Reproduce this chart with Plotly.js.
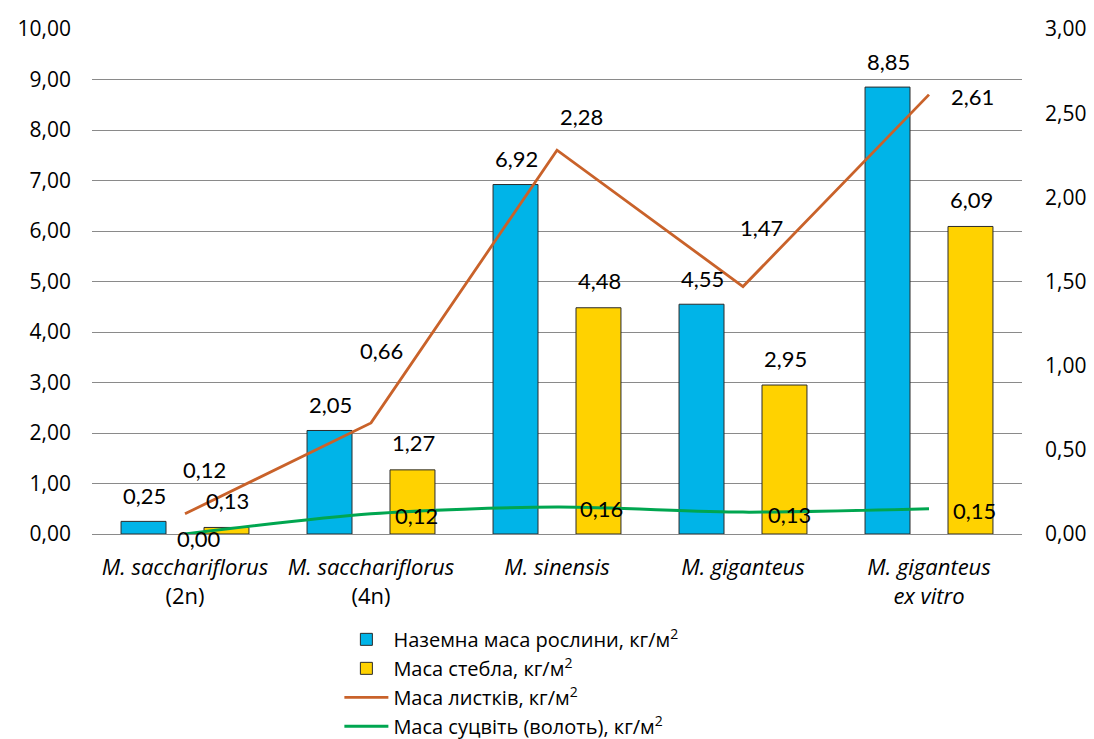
<!DOCTYPE html>
<html>
<head>
<meta charset="utf-8">
<script src="https://cdn.plot.ly/plotly-3.0.1.min.js"></script>
<style>
  html, body { margin: 0; padding: 0; background: #fff; }
  #chart { width: 1094px; height: 739px; }
</style>
</head>
<body>
<div id="chart"></div>
<script>
// ---- data ----
const categories = [
  "<i>M. sacchariflorus</i><br>(2n)",
  "<i>M. sacchariflorus</i><br>(4n)",
  "<i>M. sinensis</i>",
  "<i>M. giganteus</i>",
  "<i>M. giganteus</i><br><i>ex vitro</i>"
];
const aboveGroundMass = [0.25, 2.05, 6.92, 4.55, 8.85];
const stemMass = [0.13, 1.27, 4.48, 2.95, 6.09];
const leafMass = [0.12, 0.66, 2.28, 1.47, 2.61];
const inflorescenceMass = [0.00, 0.12, 0.16, 0.13, 0.15];

const seriesNames = [
  "Наземна маса рослини, кг/м<sup>2</sup>",
  "Маса стебла, кг/м<sup>2</sup>",
  "Маса листків, кг/м<sup>2</sup>",
  "Маса суцвіть (волоть), кг/м<sup>2</sup>"
];

// ---- styling ----
const FONT = "Open Sans, sans-serif";
const LABEL_FONT = "Lato, sans-serif";
const fmt = v => v.toFixed(2).replace(".", ",");

// label offsets (pixels) for line data labels
const leafLabelShift = [[19, 44], [10, 72], [24, 34], [18, 59], [43, -2]];
const inflLabelShift = [[14, -4], [45, -2], [44, -1], [46, -2], [45, -2]];

const traces = [
  {
    type: "bar", name: seriesNames[0], x: categories, y: aboveGroundMass,
    marker: { color: "#00B4E8", line: { color: "#2b2b2b", width: 1 } },
    hoverinfo: "y"
  },
  {
    type: "bar", name: seriesNames[1], x: categories, y: stemMass,
    marker: { color: "#FFD200", line: { color: "#2b2b2b", width: 1 } },
    hoverinfo: "y"
  },
  {
    type: "scatter", mode: "lines", name: seriesNames[2], x: categories, y: leafMass,
    yaxis: "y2", line: { color: "#C9622A", width: 2.8 }
  },
  {
    type: "scatter", mode: "lines", name: seriesNames[3], x: categories, y: inflorescenceMass,
    yaxis: "y2", line: { color: "#00A650", width: 3, shape: "spline", smoothing: 0.8 }
  }
];

const annotations = [];
const labelFont = { family: LABEL_FONT, size: 22, color: "#000" };
aboveGroundMass.forEach((v, i) => annotations.push({
  x: categories[i], y: v, xref: "x", yref: "y", text: fmt(v), showarrow: false,
  xshift: -41, yshift: 26, font: labelFont
}));
stemMass.forEach((v, i) => annotations.push({
  x: categories[i], y: v, xref: "x", yref: "y", text: fmt(v), showarrow: false,
  xshift: 42, yshift: 27, font: labelFont
}));
leafMass.forEach((v, i) => annotations.push({
  x: categories[i], y: v, xref: "x", yref: "y2", text: fmt(v), showarrow: false,
  xshift: leafLabelShift[i][0], yshift: leafLabelShift[i][1], font: labelFont
}));
inflorescenceMass.forEach((v, i) => annotations.push({
  x: categories[i], y: v, xref: "x", yref: "y2", text: fmt(v), showarrow: false,
  xshift: inflLabelShift[i][0], yshift: inflLabelShift[i][1], font: labelFont
}));

const layout = {
  width: 1094, height: 739,
  margin: { l: 92, r: 72, t: 29, b: 205, autoexpand: false },
  paper_bgcolor: "#fff", plot_bgcolor: "#fff",
  separators: ", ",
  font: { family: FONT, size: 20, color: "#000" },
  barmode: "group",
  bargap: 0.108,
  bargroupgap: 0.458,
  showlegend: true,
  legend: {
    x: 0.266, xanchor: "left", y: -0.17, yanchor: "top",
    orientation: "v", traceorder: "normal",
    font: { family: FONT, size: 20, color: "#000" },
    tracegroupgap: 0, itemwidth: 44, bgcolor: "rgba(0,0,0,0)"
  },
  xaxis: {
    type: "category",
    showgrid: false, showline: false, zeroline: false, ticks: "",
    tickfont: { family: FONT, size: 22, color: "#000" },
    ticklabelstandoff: 18,
    fixedrange: true
  },
  yaxis: {
    range: [0, 10], dtick: 1, tick0: 0, tickformat: ".2f",
    showgrid: true, gridcolor: "#8a8a8a", gridwidth: 1,
    zeroline: true, zerolinecolor: "#8a8a8a", zerolinewidth: 1,
    showline: false, ticks: "",
    ticklabelstandoff: 20,
    tickfont: { family: FONT, size: 21, color: "#000" },
    fixedrange: true
  },
  yaxis2: {
    overlaying: "y", side: "right",
    range: [0, 3], dtick: 0.5, tick0: 0, tickformat: ".2f",
    showgrid: false, zeroline: false, showline: false, ticks: "",
    ticklabelstandoff: 22,
    tickfont: { family: FONT, size: 21, color: "#000" },
    fixedrange: true
  },
  annotations: annotations
};

Plotly.newPlot("chart", traces, layout, { displayModeBar: false, staticPlot: true });
</script>
</body>
</html>
